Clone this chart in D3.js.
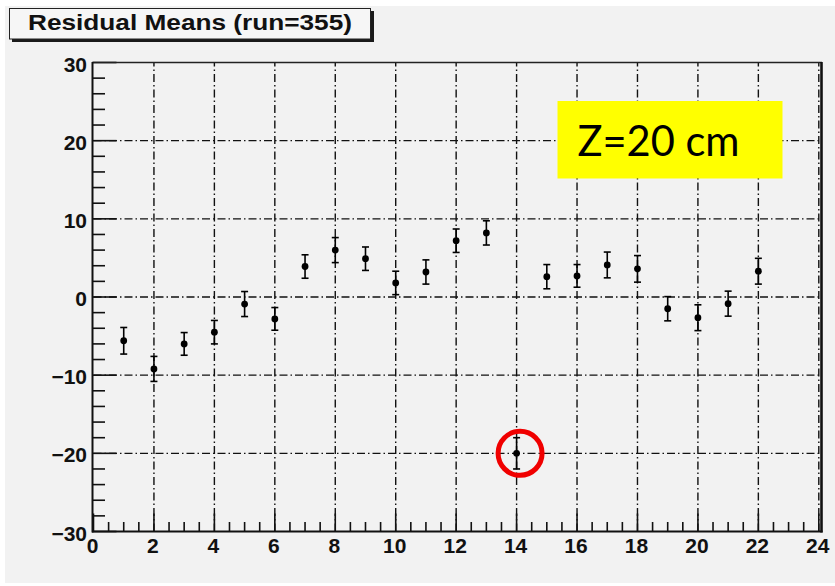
<!DOCTYPE html>
<html>
<head>
<meta charset="utf-8">
<script src="https://cdn.jsdelivr.net/npm/d3@7"></script>
<style>
  html, body { margin: 0; padding: 0; background: #ffffff; }
  svg { display: block; }
</style>
</head>
<body>
<svg id="chart" width="835" height="586"></svg>
<script>
// Residual means per channel, with their uncertainties
const channels = [1, 2, 3, 4, 5, 6, 7, 8, 9, 10, 11, 12, 13, 14, 15, 16, 17, 18, 19, 20, 21, 22];
const means = [-5.6, -9.2, -6.0, -4.5, -0.9, -2.8, 3.9, 6.0, 4.9, 1.8, 3.2, 7.2, 8.2, -20.0, 2.6, 2.7, 4.1, 3.6, -1.5, -2.65, -0.85, 3.3];
const errors = [1.7, 1.6, 1.45, 1.5, 1.6, 1.45, 1.5, 1.6, 1.5, 1.5, 1.55, 1.5, 1.55, 2.0, 1.55, 1.45, 1.65, 1.7, 1.55, 1.65, 1.6, 1.65];
const xTicks = [0, 2, 4, 6, 8, 10, 12, 14, 16, 18, 20, 22, 24];
const yTicks = [-30, -20, -10, 0, 10, 20, 30];
const titleText = "Residual Means (run=355)";
const noteText = "Z=20 cm";
const flaggedChannel = 14;

const svg = d3.select("#chart");
const x = d3.scaleLinear().domain([0, 24]).range([93.5, 818.8]);
const y = d3.scaleLinear().domain([-30, 30]).range([531.5, 62.5]);
const axisFont = "'Liberation Sans', Arial, sans-serif";

// canvas panel
svg.append("rect").attr("x", 5).attr("y", 6).attr("width", 830).attr("height", 577).attr("fill", "#f2f2f2");

// grid (dash-dot) at major ticks
const dash = "8,3,1.5,3";
const grid = svg.append("g").attr("stroke", "#111").attr("stroke-width", 1.4).attr("stroke-dasharray", dash);
grid.selectAll("line.gx").data(xTicks.filter(d => d > 0)).join("line")
  .attr("x1", d => x(d)).attr("x2", d => x(d)).attr("y1", y(-30)).attr("y2", y(30));
grid.selectAll("line.gy").data(yTicks.filter(d => d > -30 && d < 30)).join("line")
  .attr("x1", x(0)).attr("x2", 821).attr("y1", d => y(d)).attr("y2", d => y(d));

// axes with inward ROOT-style ticks
const yMinor = d3.range(-30, 30.001, 2);
const xMinor = d3.range(0, 24.001, 0.5);
const ticks = svg.append("g").attr("stroke", "#111").attr("stroke-width", 1.6);
ticks.selectAll("line.ty").data(yMinor).join("line")
  .attr("x1", 92.5).attr("x2", d => 92.5 + (d % 10 === 0 ? 24 : 12.5))
  .attr("y1", d => y(d)).attr("y2", d => y(d));
ticks.selectAll("line.tx").data(xMinor).join("line")
  .attr("x1", d => x(d)).attr("x2", d => x(d))
  .attr("y1", 531.5).attr("y2", d => 531.5 - (d % 2 === 0 ? 18 : 9.5));

// frame
svg.append("line").attr("x1", 92.5).attr("x2", 822).attr("y1", 62.5).attr("y2", 62.5).attr("stroke", "#222").attr("stroke-width", 1.5);
svg.append("line").attr("x1", 92.5).attr("x2", 92.5).attr("y1", 62).attr("y2", 532.5).attr("stroke", "#111").attr("stroke-width", 2);
svg.append("line").attr("x1", 92).attr("x2", 822.5).attr("y1", 531.5).attr("y2", 531.5).attr("stroke", "#111").attr("stroke-width", 2);
svg.append("line").attr("x1", 821.5).attr("x2", 821.5).attr("y1", 62).attr("y2", 532.5).attr("stroke", "#111").attr("stroke-width", 2.6);

// tick labels
svg.append("g").selectAll("text").data(yTicks).join("text")
  .attr("x", 87).attr("y", d => y(d) + 9)
  .attr("text-anchor", "end")
  .attr("font-family", axisFont).attr("font-weight", "bold").attr("font-size", 21)
  .attr("fill", "#111")
  .text(d => d < 0 ? "\u2212" + Math.abs(d) : d);
svg.append("g").selectAll("text").data(xTicks).join("text")
  .attr("x", d => x(d) - 1).attr("y", 553)
  .attr("text-anchor", "middle")
  .attr("font-family", axisFont).attr("font-weight", "bold").attr("font-size", 21)
  .attr("fill", "#111")
  .text(d => d);

// error bars and markers
const pts = channels.map((c, i) => ({ c, m: means[i], e: errors[i] }));
const eb = svg.append("g").attr("stroke", "#000").attr("stroke-width", 1.6);
eb.selectAll("line.v").data(pts).join("line")
  .attr("x1", d => x(d.c)).attr("x2", d => x(d.c))
  .attr("y1", d => y(d.m + d.e)).attr("y2", d => y(d.m - d.e));
eb.selectAll("line.t").data(pts).join("line")
  .attr("x1", d => x(d.c) - 3.5).attr("x2", d => x(d.c) + 3.5)
  .attr("y1", d => y(d.m + d.e)).attr("y2", d => y(d.m + d.e));
eb.selectAll("line.b").data(pts).join("line")
  .attr("x1", d => x(d.c) - 3.5).attr("x2", d => x(d.c) + 3.5)
  .attr("y1", d => y(d.m - d.e)).attr("y2", d => y(d.m - d.e));
svg.append("g").selectAll("circle").data(pts).join("circle")
  .attr("cx", d => x(d.c)).attr("cy", d => y(d.m)).attr("r", 3.4)
  .attr("fill", "#000");

// highlight ring around the outlier channel
const flagged = pts.find(d => d.c === flaggedChannel);
svg.append("circle")
  .attr("cx", x(flagged.c) + 3.5).attr("cy", y(flagged.m))
  .attr("r", 22).attr("fill", "none").attr("stroke", "#f00000").attr("stroke-width", 5);

// title box with shadow
svg.append("rect").attr("x", 12).attr("y", 11).attr("width", 362).attr("height", 31).attr("fill", "#1a1a1a");
svg.append("rect").attr("x", 9.5).attr("y", 8.5).attr("width", 361).attr("height", 30.5)
  .attr("fill", "#f6f6f6").attr("stroke", "#222").attr("stroke-width", 1);
svg.append("text").attr("x", 28).attr("y", 29.5)
  .attr("font-family", axisFont).attr("font-weight", "bold").attr("font-size", 22)
  .attr("textLength", 324).attr("lengthAdjust", "spacingAndGlyphs")
  .attr("fill", "#111").text(titleText);

// annotation
svg.append("rect").attr("x", 557.5).attr("y", 101).attr("width", 225).attr("height", 77.5).attr("fill", "#ffff00");
svg.append("text").attr("x", 577.5).attr("y", 155.5)
  .attr("font-family", "Lato, 'Open Sans', sans-serif").attr("font-size", 43)
  .attr("textLength", 162).attr("lengthAdjust", "spacingAndGlyphs")
  .attr("fill", "#000").text(noteText);
</script>
</body>
</html>
